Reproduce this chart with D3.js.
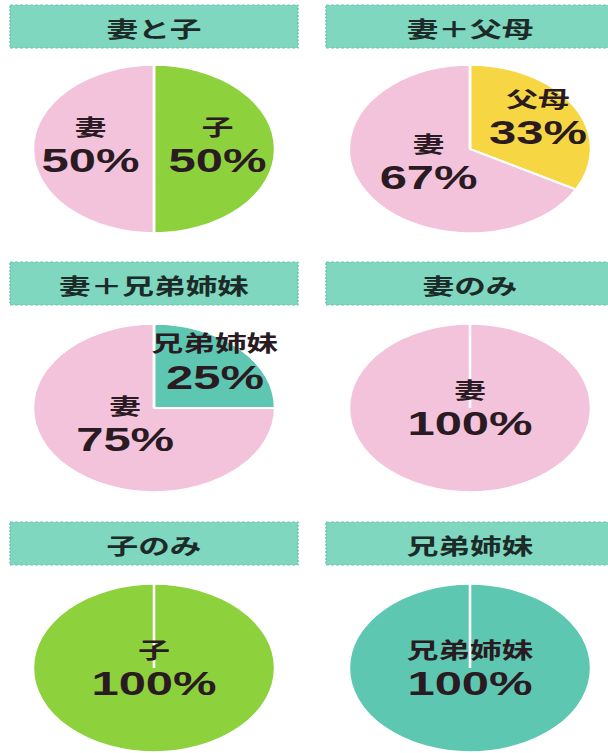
<!DOCTYPE html>
<html>
<head>
<meta charset="utf-8">
<script src="https://cdn.jsdelivr.net/npm/d3@7"></script>
<style>
  body { margin: 0; background: #fff; }
  svg { display: block; }
</style>
</head>
<body>
<svg id="chart" width="608" height="753"></svg>
<script>
const TITLES = ["妻と子", "妻＋父母", "妻＋兄弟姉妹", "妻のみ", "子のみ", "兄弟姉妹"];
const SLICE_NAMES = [["子", "妻"], ["父母", "妻"], ["兄弟姉妹", "妻"], ["妻"], ["子"], ["兄弟姉妹"]];
const SLICE_VALUES = [[50, 50], [33, 67], [25, 75], [100], [100], [100]];
const COLOR_KEYS = ["妻", "子", "父母", "兄弟姉妹"];

const color = d3.scaleOrdinal()
  .domain(COLOR_KEYS)
  .range(["#f3c3db", "#8dd13d", "#f6d743", "#5dc7b1"]);

// the source picture is stretched sideways, so every panel is drawn squeezed and scaled back out
const SX = 1.44;
const R = 84;
const FONT = "'Noto Sans CJK JP', 'Noto Sans', sans-serif";
const NUM_FONT = "'Liberation Sans', Arial, sans-serif";

const colX = [154, 470];
const rowTitleY = [5, 262, 522];
const rowPieY = [149, 408, 668];

const svg = d3.select("#chart");

const pie = d3.pie().sort(null).value((d) => d.value);
const arc = d3.arc().innerRadius(0).outerRadius(R);

TITLES.forEach((title, i) => {
  const col = i % 2;
  const row = Math.floor(i / 2);

  // title bar
  const head = svg.append("g")
    .attr("transform", `translate(${colX[col]},${rowTitleY[row]}) scale(${SX},1)`);

  head.append("rect")
    .attr("x", -100)
    .attr("y", 0)
    .attr("width", 200)
    .attr("height", 43)
    .attr("fill", "#7fd7c0")
    .attr("stroke", "#6cc3ad")
    .attr("stroke-width", 1)
    .attr("stroke-dasharray", "2,1.5");

  head.append("text")
    .attr("x", 0)
    .attr("y", 22)
    .attr("text-anchor", "middle")
    .attr("dominant-baseline", "central")
    .attr("font-family", FONT)
    .attr("font-weight", 700)
    .attr("font-size", 22)
    .attr("fill", "#1d2b28")
    .text(title);

  // pie
  const data = SLICE_NAMES[i].map((name, j) => ({ name, value: SLICE_VALUES[i][j] }));
  const total = d3.sum(data, (d) => d.value);
  const arcs = pie(data);

  const g = svg.append("g")
    .attr("transform", `translate(${colX[col]},${rowPieY[row]}) scale(${SX},1)`);

  g.selectAll("path.slice")
    .data(arcs)
    .enter()
    .append("path")
    .attr("class", "slice")
    .attr("d", arc)
    .attr("fill", (d) => color(d.data.name))
    .attr("stroke", "#fff")
    .attr("stroke-width", 1.6);

  // white seam from centre along each slice's start edge
  g.selectAll("line.seam")
    .data(arcs)
    .enter()
    .append("line")
    .attr("class", "seam")
    .attr("x1", 0)
    .attr("y1", 0)
    .attr("x2", (d) => Math.sin(d.startAngle) * R)
    .attr("y2", (d) => -Math.cos(d.startAngle) * R)
    .attr("stroke", "#fff")
    .attr("stroke-width", 1.8);

  // labels: smaller slices push their label further out
  const labels = g.selectAll("text.label")
    .data(arcs)
    .enter()
    .append("text")
    .attr("class", "label")
    .attr("transform", (d) => {
      const frac = d.data.value / total;
      const r = frac >= 1 ? 0 : (0.9 - 0.75 * frac) * R;
      const a = (d.startAngle + d.endAngle) / 2;
      const dy = frac >= 1 ? -3 : -7;
      return `translate(${Math.sin(a) * r},${-Math.cos(a) * r + dy})`;
    })
    .attr("text-anchor", "middle")
    .attr("dominant-baseline", "central")
    .attr("font-weight", 700)
    .attr("fill", "#2a1a22");

  labels.append("tspan")
    .attr("x", 0)
    .attr("y", -17)
    .attr("font-family", FONT)
    .attr("font-size", 22)
    .text((d) => d.data.name);

  labels.append("tspan")
    .attr("x", 0)
    .attr("y", 18)
    .attr("font-family", NUM_FONT)
    .attr("font-size", 34)
    .text((d) => `${d.data.value}%`);
});
</script>
</body>
</html>
